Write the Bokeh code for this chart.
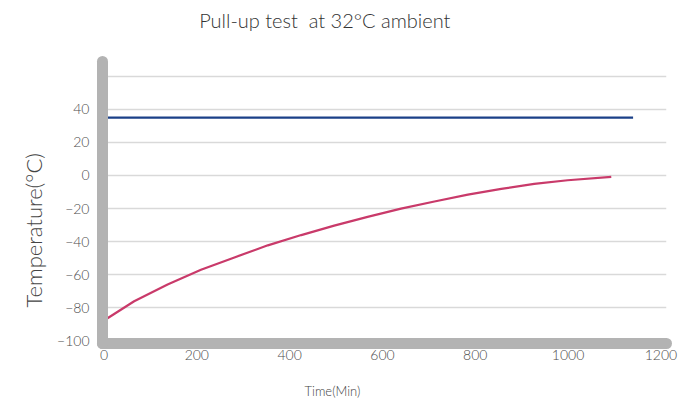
from bokeh.plotting import figure
from bokeh.models import Range1d, FixedTicker, Title, Label
from bokeh.embed import file_html
from bokeh.resources import INLINE

# ---- data ----
ambient_time = [0, 1140]
ambient_temp = [35, 35]

pull_time = [0, 65, 137, 209, 281, 353, 425, 496, 568, 640, 712, 784, 856, 927, 999, 1093]
pull_temp = [-87.6, -76, -65.8, -57, -49.5, -42.2, -36, -30.3, -25, -20, -15.7, -11.6, -8.1, -5.1, -2.9, -0.8]

x_ticks = [0, 200, 400, 600, 800, 1000, 1200]
y_ticks = [-100, -80, -60, -40, -20, 0, 20, 40, 60]

title_text = "Pull-up test\u00a0 at 32°C ambient"
x_title = "Time(Min)"
y_title = "Temperature(°C)"

FONT = "'Lato Light', Lato"
BAR = "#b3b3b3"

p = figure(width=684, height=401, output_backend="svg", toolbar_location=None, title=None,
           x_range=Range1d(-3.2, 1212), y_range=Range1d(-101.5, 105.7),
           min_border_left=102, min_border_right=18, min_border_top=0, min_border_bottom=58)
p.outline_line_color = None
p.background_fill_color = "white"
p.border_fill_color = "white"

p.line(ambient_time, ambient_temp, line_color="#1b4088", line_width=2.2)
p.line(pull_time, pull_temp, line_color="#c93a6a", line_width=2.2)

# axes
for ax in (p.xaxis[0], p.yaxis[0]):
    ax.axis_line_color = BAR
    ax.axis_line_width = 11
    ax.axis_line_cap = "round"
    ax.major_tick_line_color = None
    ax.minor_tick_line_color = None
    ax.major_tick_out = 0
    ax.major_tick_in = 0
    ax.major_label_text_font = FONT
    ax.major_label_text_font_size = "14px"
    ax.major_label_text_color = "#4d4d4d"

p.xaxis[0].ticker = FixedTicker(ticks=x_ticks)
p.xaxis[0].bounds = (-3.2, 1216)
p.xaxis[0].major_label_standoff = 6

p.yaxis[0].ticker = FixedTicker(ticks=y_ticks)
p.yaxis[0].bounds = (-101.5, 69)
p.yaxis[0].major_label_standoff = 13
p.yaxis[0].major_label_overrides = {60: ""}

p.xgrid.grid_line_color = None
p.ygrid.grid_line_color = "#d9d9d9"
p.ygrid.grid_line_width = 1.5

# titles
p.add_layout(Label(x=205, y=93.7, text=title_text, text_align="left", text_baseline="middle",
                   text_font=FONT, text_font_size="20px", text_color="#333333"))

# small empty spacer between the x axis and its title
p.add_layout(Title(text="\u00a0", text_font_size="14px", standoff=0), "below")
p.add_layout(Title(text=x_title, align="left", offset=202, standoff=0,
                   text_font=FONT, text_font_size="13px", text_font_style="normal",
                   text_color="#444444"), "below")
p.add_layout(Title(text=y_title, align="left", offset=36, standoff=15,
                   text_font=FONT, text_font_size="22px", text_font_style="normal",
                   text_color="#444444"), "left")

open("out.html", "w").write(file_html(p, INLINE))
